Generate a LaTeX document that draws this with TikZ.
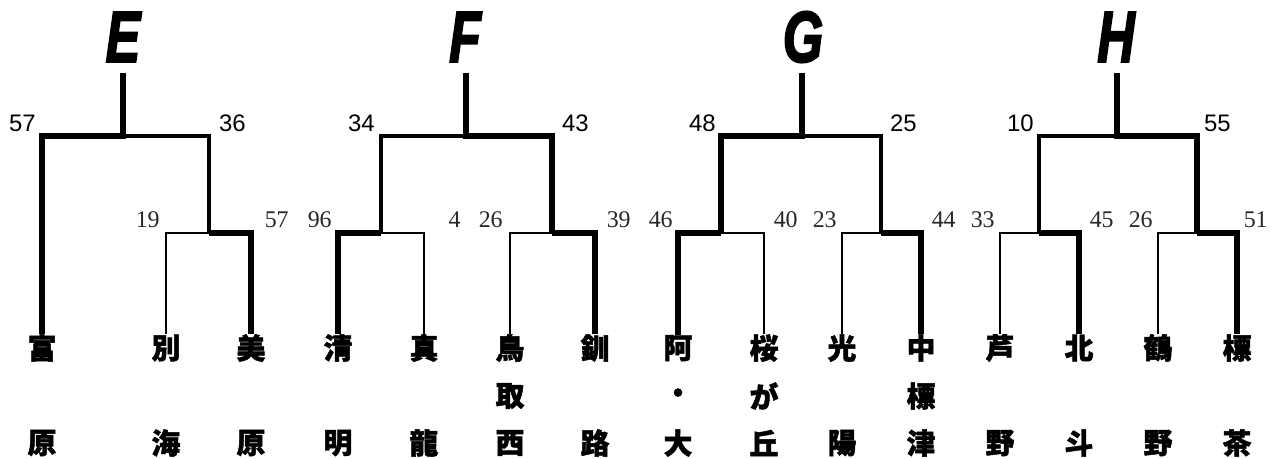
\documentclass[tikz,border=0pt]{standalone}
\usepackage{fontspec}
\setmainfont{Liberation Sans}
\newfontfamily\jpfont[BoldFeatures={FakeBold=1.6}]{Noto Sans CJK JP}
\newfontfamily\popfont[BoldItalicFeatures={FakeBold=3}]{Liberation Sans}
\newfontfamily\minfont{Liberation Serif}
\usetikzlibrary{positioning}
\tikzset{
  win/.style={line width=2.9pt},
  lose/.style={line width=2.1pt},
  weak/.style={line width=1.5pt},
  block/.style={inner sep=0pt, font=\popfont\bfseries\itshape\fontsize{41}{41}\selectfont},
  school/.style={inner sep=0pt, font=\jpfont\bfseries\fontsize{16.4}{16.4}\selectfont},
  topscore/.style={inner sep=0pt, anchor=east, font=\fontsize{13.6}{13.6}\selectfont},
  subscore/.style={inner sep=0pt, anchor=east, text=black!85, font=\minfont\fontsize{13.6}{13.6}\selectfont}
}
\begin{document}
\begin{tikzpicture}[x=0.02cm, y=-0.02cm]
  \useasboundingbox (0,0) rectangle (1270,458);

  % block letters
  \node[block] (tE) at (123,37) {\scalebox{0.72}[1]{E}};
  \node[block] (tF) at (465,37) {\scalebox{0.72}[1]{F}};
  \node[block] (tG) at (803,37) {\scalebox{0.72}[1]{G}};
  \node[block] (tH) at (1116,37) {\scalebox{0.72}[1]{H}};

  % schools, three rows
  \foreach \x/\a/\b/\c [count=\i] in {
      42/富//原, 166/別//海, 251/美//原, 338/清//明, 424/真//龍,
      510/鳥/取/西, 595/釧//路, 678/阿/・/大, 764/桜/が/丘, 842/光//陽,
      921/中/標/津, 1000/芦//野, 1079/北//斗, 1158/鶴//野, 1237/標//茶} {
    \node[school] (n\i) at (\x,348) {\a};
    \node[school] (m\i) at (\x,396) {\b};
    \node[school] (s\i) at (\x,443) {\c};
  }

  % E
  \coordinate (eT) at (123,73);
  \coordinate (eJ) at (123,136);
  \coordinate (eS) at (209,233);
  \draw[win] (eT) -- (eJ) -| (n1.north);
  \draw[lose] (eJ) -| (eS);
  \draw[weak] (eS) -| (n2.north);
  \draw[win] (eS) -| (n3.north);

  % F
  \coordinate (fT) at (466,73);
  \coordinate (fJ) at (466,136);
  \coordinate (fL) at (381,233);
  \coordinate (fR) at (552,233);
  \draw[win] (fT) -- (fJ) -| (fR);
  \draw[lose] (fJ) -| (fL);
  \draw[win] (fL) -| (n4.north);
  \draw[weak] (fL) -| (n5.north);
  \draw[weak] (fR) -| (n6.north);
  \draw[win] (fR) -| (n7.north);

  % G
  \coordinate (gT) at (802,73);
  \coordinate (gJ) at (802,136);
  \coordinate (gL) at (721,233);
  \coordinate (gR) at (881,233);
  \draw[win] (gT) -- (gJ) -| (gL);
  \draw[lose] (gJ) -| (gR);
  \draw[win] (gL) -| (n8.north);
  \draw[weak] (gL) -| (n9.north);
  \draw[weak] (gR) -| (n10.north);
  \draw[win] (gR) -| (n11.north);

  % H
  \coordinate (hT) at (1117,73);
  \coordinate (hJ) at (1117,136);
  \coordinate (hL) at (1039,233);
  \coordinate (hR) at (1197,233);
  \draw[win] (hT) -- (hJ) -| (hR);
  \draw[lose] (hJ) -| (hL);
  \draw[weak] (hL) -| (n12.north);
  \draw[win] (hL) -| (n13.north);
  \draw[weak] (hR) -| (n14.north);
  \draw[win] (hR) -| (n15.north);

  % scores
  \node[topscore] (pE1) at (36,123) {57};
  \node[topscore] (pE2) at (246,123) {36};
  \node[topscore] (pF1) at (375,123) {34};
  \node[topscore] (pF2) at (589,123) {43};
  \node[topscore] (pG1) at (716,123) {48};
  \node[topscore] (pG2) at (917,123) {25};
  \node[topscore] (pH1) at (1034,123) {10};
  \node[topscore] (pH2) at (1231,123) {55};

  \node[subscore] (qE1) at (160,220) {19};
  \node[subscore] (qE2) at (289,220) {57};
  \node[subscore] (qF1) at (332,220) {96};
  \node[subscore] (qF2) at (461,220) {4};
  \node[subscore] (qF3) at (503,220) {26};
  \node[subscore] (qF4) at (631,220) {39};
  \node[subscore] (qG1) at (673,220) {46};
  \node[subscore] (qG2) at (798,220) {40};
  \node[subscore] (qG3) at (837,220) {23};
  \node[subscore] (qG4) at (956,220) {44};
  \node[subscore] (qH1) at (995,220) {33};
  \node[subscore] (qH2) at (1114,220) {45};
  \node[subscore] (qH3) at (1153,220) {26};
  \node[subscore] (qH4) at (1268,220) {51};
\end{tikzpicture}
\end{document}
